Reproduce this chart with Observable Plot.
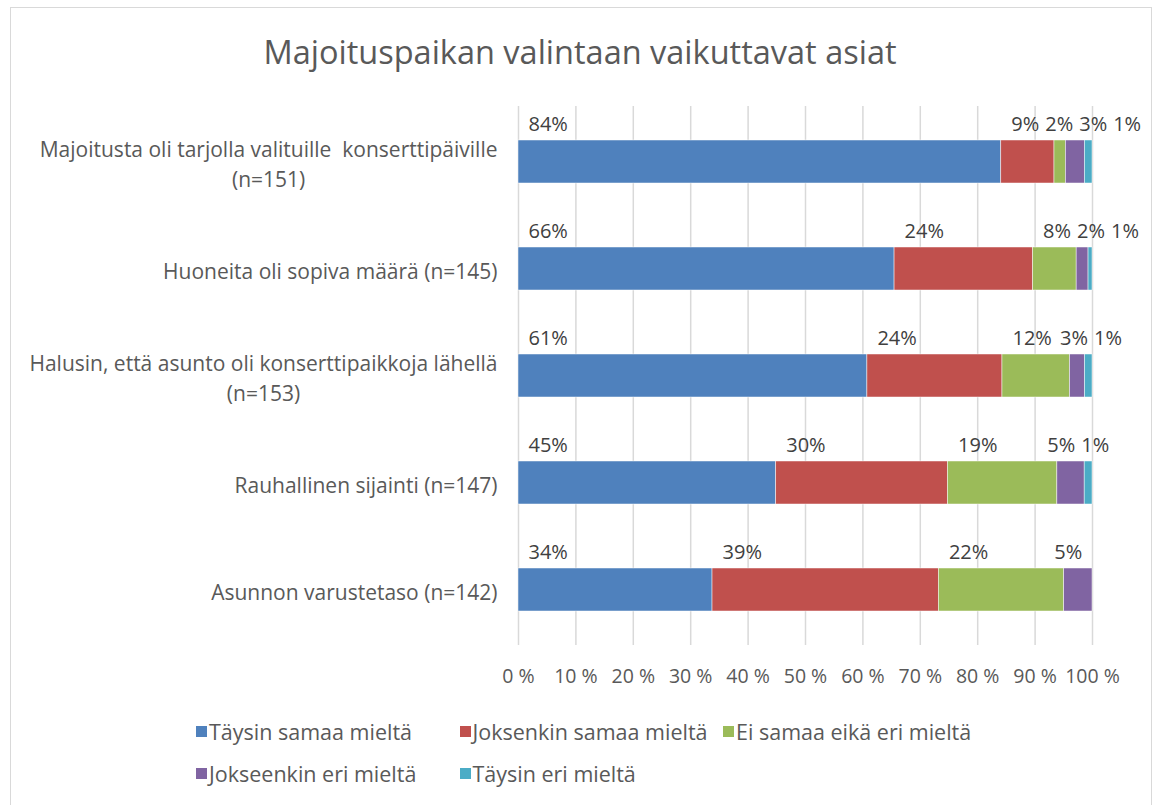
<!DOCTYPE html>
<html>
<head>
<meta charset="utf-8">
<script src="https://cdn.jsdelivr.net/npm/d3@7"></script>
<script src="https://cdn.jsdelivr.net/npm/@observablehq/plot@0.6"></script>
<style>
  body { margin: 0; background: #fff; font-family: "Open Sans", Lato, sans-serif; }
  #wrap { position: relative; width: 1155px; height: 805px; overflow: hidden; background: #fff; }
  #frame { position: absolute; left: 10px; top: 7px; width: 1142px; height: 830px; border: 1px solid #d9d9d9; box-sizing: border-box; }
  #title { position: absolute; left: 0; width: 1160px; top: 31px; line-height: 42px; text-align: center; font-size: 32.5px; color: #595959; }
  #chart { position: absolute; left: 0; top: 0; }
  .lg { position: absolute; height: 30px; display: flex; align-items: center; font-size: 21.5px; color: #595959; white-space: nowrap; }
  .lg span.sw { display: inline-block; width: 11px; height: 11px; margin-right: 2px; }
</style>
</head>
<body>
<div id="wrap">
  <div id="frame"></div>
  <div id="title">Majoituspaikan valintaan vaikuttavat asiat</div>
  <div id="chart"></div>
</div>
<script>
// ---------------- data ----------------
const categories = [
  "Majoitusta oli tarjolla valituille  konserttipäiville\n(n=151)",
  "Huoneita oli sopiva määrä (n=145)",
  "Halusin, että asunto oli konserttipaikkoja lähellä\n(n=153)",
  "Rauhallinen sijainti (n=147)",
  "Asunnon varustetaso (n=142)"
];
const responses = [
  "Täysin samaa mieltä",
  "Joksenkin samaa mieltä",
  "Ei samaa eikä eri mieltä",
  "Jokseenkin eri mieltä",
  "Täysin eri mieltä"
];
// answer counts per category (same order as categories)
const taysinSamaa    = [127, 95, 93, 66, 48];
const joksenkinSamaa = [14, 35, 36, 44, 56];
const eiSamaaEikaEri = [3, 11, 18, 28, 31];
const jokseenkinEri  = [5, 3, 4, 7, 7];
const taysinEri      = [2, 1, 2, 2, 0];
const xTicks = [0, 0.1, 0.2, 0.3, 0.4, 0.5, 0.6, 0.7, 0.8, 0.9, 1];
const xTickLabels = ["0 %", "10 %", "20 %", "30 %", "40 %", "50 %", "60 %", "70 %", "80 %", "90 %", "100 %"];
const colors = ["#4F81BD", "#C0504D", "#9BBB59", "#8064A2", "#4BACC6"];

// ---------------- layout ----------------
const W = 1155, H = 700;
const mL = 518, mR = 63, mT = 106, mB = 55;
const plotW = W - mL - mR;
const FONT = "Open Sans";
const catRight = 497;

const series = [taysinSamaa, joksenkinSamaa, eiSamaaEikaEri, jokseenkinEri, taysinEri];
const rows = [];
categories.forEach((c, ci) => {
  responses.forEach((r, ri) => rows.push({category: c, response: r, count: series[ri][ci]}));
});

const cv = document.createElement("canvas").getContext("2d");
function measure(txt, size) { cv.font = `${size}px "${FONT}"`; return cv.measureText(txt).width; }

// data labels: start of each segment, pushed right to avoid overlaps
const labelSize = 20;
const labelRows = [];
categories.forEach((c, ci) => {
  const n = d3.sum(series, s => s[ci]);
  let cum = 0, prevEnd = -Infinity;
  series.forEach((s, ri) => {
    const v = s[ci];
    const share = v / n;
    if (v > 0) {
      const txt = Math.round(share * 100) + "%";
      const w = measure(txt, labelSize);
      const startPx = cum * plotW + (share < 0.05 ? -10 : 10);
      const px = Math.max(startPx, prevEnd + 6);
      prevEnd = px + w;
      labelRows.push({category: c, lx: px / plotW, label: txt});
    }
    cum += share;
  });
});

// category labels: lines centred, block right-aligned
const catSize = 21;
const catMarks = categories.map(c => {
  const w = d3.max(c.split("\n"), l => measure(l, catSize));
  return Plot.text([c], {
    y: d => d, text: d => d, frameAnchor: "left", textAnchor: "middle",
    dx: catRight - w / 2 - mL, fontSize: catSize, lineHeight: 1.45, fill: "#595959"
  });
});

const chart = Plot.plot({
  width: W, height: H,
  marginLeft: mL, marginRight: mR, marginTop: mT, marginBottom: mB,
  style: {fontFamily: FONT, fontSize: "18px", color: "#595959", background: "transparent", overflow: "visible"},
  x: {domain: [0, 1], axis: null},
  y: {domain: categories, paddingInner: 0.6, paddingOuter: 0.3, axis: null},
  color: {domain: responses, range: colors},
  marks: [
    Plot.gridX(xTicks, {stroke: "#d9d9d9", strokeOpacity: 1, strokeWidth: 1.5}),
    Plot.barX(rows, Plot.stackX({x: "count", y: "category", fill: "response", offset: "normalize", stroke: "#fff", strokeWidth: 0.6, strokeOpacity: 0.8})),
    Plot.axisX(xTicks, {tickSize: 0, tickPadding: 24, tickFormat: d => xTickLabels[xTicks.indexOf(d)], fill: "#595959", fontSize: 19.5}),
    Plot.text(labelRows, {x: "lx", y: "category", text: "label", textAnchor: "start", dy: -37, fontSize: labelSize, fill: "#404040"}),
    ...catMarks
  ]
});
document.getElementById("chart").appendChild(chart);

// legend
const wrap = document.getElementById("wrap");
responses.forEach((r, i) => {
  const col = i < 3 ? i : i - 3, row = i < 3 ? 0 : 1;
  const el = document.createElement("div");
  el.className = "lg";
  el.style.left = (196 + col * 263.5) + "px";
  el.style.top = ((row ? 773 : 731) - 15) + "px";
  el.innerHTML = `<span class="sw" style="background:${colors[i]}"></span>`;
  el.appendChild(document.createTextNode(r));
  wrap.appendChild(el);
});
</script>
</body>
</html>
